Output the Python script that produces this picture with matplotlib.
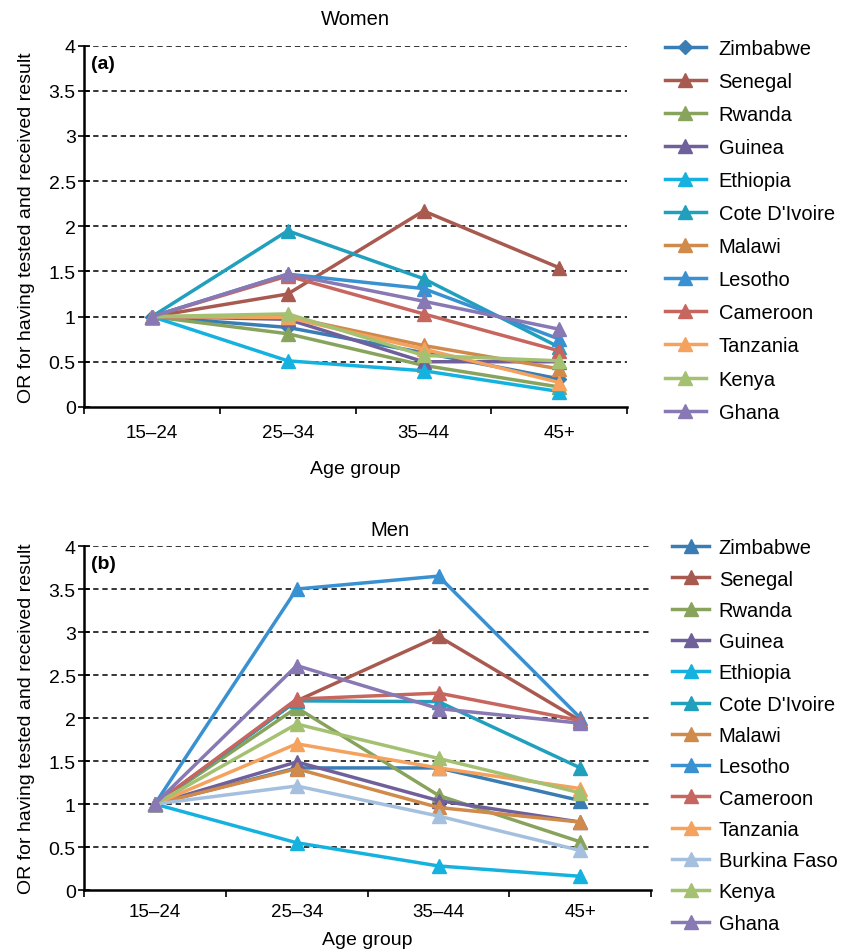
import matplotlib
matplotlib.use('Agg')
import matplotlib.pyplot as plt
from matplotlib.ticker import FixedLocator, NullFormatter

plt.rcParams['font.family'] = ['Liberation Sans', 'DejaVu Sans']

age_groups = ['15–24', '25–34', '35–44', '45+']

# 여성 (Women) OR 값
women_countries = ['Zimbabwe', 'Senegal', 'Rwanda', 'Guinea', 'Ethiopia', "Cote D'Ivoire",
                   'Malawi', 'Lesotho', 'Cameroon', 'Tanzania', 'Kenya', 'Ghana']
women_values = [
    [1, 0.88, 0.60, 0.31],   # Zimbabwe
    [1, 1.25, 2.17, 1.54],   # Senegal
    [1, 0.81, 0.46, 0.22],   # Rwanda
    [1, 0.97, 0.50, 0.50],   # Guinea
    [1, 0.51, 0.40, 0.17],   # Ethiopia
    [1, 1.95, 1.42, 0.66],   # Cote D'Ivoire
    [1, 1.00, 0.68, 0.42],   # Malawi
    [1, 1.47, 1.31, 0.75],   # Lesotho
    [1, 1.45, 1.03, 0.62],   # Cameroon
    [1, 0.99, 0.64, 0.27],   # Tanzania
    [1, 1.03, 0.57, 0.51],   # Kenya
    [1, 1.47, 1.17, 0.86],   # Ghana
]

# 남성 (Men) OR 값
men_countries = ['Zimbabwe', 'Senegal', 'Rwanda', 'Guinea', 'Ethiopia', "Cote D'Ivoire",
                 'Malawi', 'Lesotho', 'Cameroon', 'Tanzania', 'Burkina Faso', 'Kenya', 'Ghana']
men_values = [
    [1, 1.42, 1.42, 1.04],   # Zimbabwe
    [1, 2.20, 2.95, 1.97],   # Senegal
    [1, 2.12, 1.10, 0.56],   # Rwanda
    [1, 1.49, 1.04, 0.79],   # Guinea
    [1, 0.55, 0.28, 0.16],   # Ethiopia
    [1, 2.20, 2.19, 1.42],   # Cote D'Ivoire
    [1, 1.41, 0.96, 0.79],   # Malawi
    [1, 3.50, 3.65, 2.00],   # Lesotho
    [1, 2.22, 2.29, 1.97],   # Cameroon
    [1, 1.70, 1.42, 1.18],   # Tanzania
    [1, 1.21, 0.86, 0.46],   # Burkina Faso
    [1, 1.93, 1.53, 1.13],   # Kenya
    [1, 2.61, 2.11, 1.94],   # Ghana
]

colors = {
    'Zimbabwe': '#3A7DB4', 'Senegal': '#A95A50', 'Rwanda': '#88A45C', 'Guinea': '#6F609B',
    'Ethiopia': '#16B2DF', "Cote D'Ivoire": '#20A0BD', 'Malawi': '#D08A4C', 'Lesotho': '#3991D2',
    'Cameroon': '#C6665F', 'Tanzania': '#F4A25D', 'Burkina Faso': '#A5C0DF', 'Kenya': '#A4C172',
    'Ghana': '#8878B3',
}


def draw_panel(ax, countries, values, title, letter, title_pos, leg_anchor, leg_spacing,
               handle_len, text_pad, tick_pad, xlabel_pad, women=False):
    x = range(1, len(age_groups) + 1)
    for name, vals in zip(countries, values):
        marker = 'D' if (women and name == 'Zimbabwe') else '^'
        ax.plot(x, vals, color=colors[name], lw=2.5, marker=marker,
                markersize=9.5 if marker == '^' else 7, label=name)
    ax.set_xlim(0.5, 4.5)
    ax.set_ylim(0, 4)
    ax.set_yticks([0, 0.5, 1, 1.5, 2, 2.5, 3, 3.5, 4])
    ax.set_yticklabels(['0', '0.5', '1', '1.5', '2', '2.5', '3', '3.5', '4'])
    ax.xaxis.set_major_locator(FixedLocator([0.5, 1.5, 2.5, 3.5, 4.5]))
    ax.xaxis.set_major_formatter(NullFormatter())
    ax.xaxis.set_minor_locator(FixedLocator(list(x)))
    ax.set_xticklabels(age_groups, minor=True)
    ax.tick_params(axis='x', which='major', direction='out', length=5, width=1.2)
    ax.tick_params(axis='x', which='minor', length=0, pad=tick_pad, labelsize=13.5)
    ax.tick_params(axis='y', direction='inout', length=8, width=1.2, labelsize=14, pad=2)
    for s in ['top', 'right']:
        ax.spines[s].set_visible(False)
    for s in ['left', 'bottom']:
        ax.spines[s].set_linewidth(1.8)
    for yv in [0.5, 1, 1.5, 2, 2.5, 3, 3.5, 4]:
        ax.axhline(yv, color='black', lw=1.1, ls=(0, (3.5, 2.5)), zorder=0)
    ax.text(title_pos[0], title_pos[1], title, transform=ax.transAxes,
            ha='center', va='bottom', fontsize=14.5)
    ax.text(0.012, 0.975, letter, transform=ax.transAxes, ha='left', va='top',
            fontsize=14, fontweight='bold')
    ax.set_xlabel('Age group', fontsize=14, labelpad=xlabel_pad)
    ax.set_ylabel('OR for having tested and received result', fontsize=14, labelpad=10)
    ax.legend(loc='upper left', bbox_to_anchor=leg_anchor, frameon=False, fontsize=14.5,
              handlelength=handle_len, handletextpad=text_pad, labelspacing=leg_spacing,
              borderaxespad=0)


fig = plt.figure(figsize=(8.57, 9.53), dpi=100)
ax1 = fig.add_axes([0.098, 0.572, 0.634, 0.379])
ax2 = fig.add_axes([0.098, 0.065, 0.662, 0.361])

draw_panel(ax1, women_countries, women_values, 'Women', '(a)', (0.5, 1.048),
           (1.055, 1.042), 0.70, 2.0, 0.65, 12, 14, women=True)
draw_panel(ax2, men_countries, men_values, 'Men', '(b)', (0.54, 1.02),
           (1.023, 1.046), 0.61, 1.8, 0.5, 9, 8)

fig.savefig('out.png', dpi=100)
